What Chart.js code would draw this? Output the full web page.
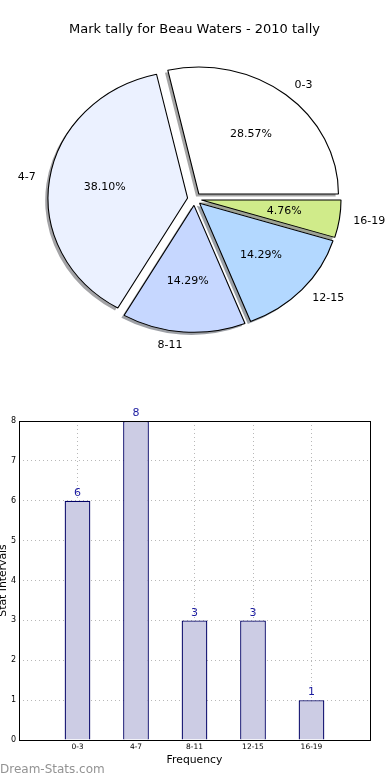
<!DOCTYPE html>
<html>
<head>
<meta charset="utf-8">
<script src="https://cdn.jsdelivr.net/npm/chart.js@4.4.1/dist/chart.umd.min.js"></script>
<style>
  body { margin: 0; background: #fff; width: 390px; height: 780px; position: relative; overflow: hidden; }
  #pieBox { position: absolute; left: 0; top: 0; width: 390px; height: 370px; }
  #barBox { position: absolute; left: 0; top: 370px; width: 390px; height: 410px; }
  #mark { position: absolute; left: 0; top: 762px; font: 12px 'DejaVu Sans'; color: #939393; }
</style>
</head>
<body>
<div id="pieBox"><canvas id="pieChart"></canvas></div>
<div id="barBox"><canvas id="barChart"></canvas></div>
<div id="mark">Dream-Stats.com</div>
<script>
var categories = ['0-3', '4-7', '8-11', '12-15', '16-19'];
var tally = [6, 8, 3, 3, 1];
var sliceColors = ['#ffffff', '#ebf1ff', '#c6d7ff', '#b3d8ff', '#d0eb8a'];
var yTicks = [0, 1, 2, 3, 4, 5, 6, 7, 8];

var FONT = 'DejaVu Sans';
var total = tally.reduce(function (a, b) { return a + b; }, 0);

// matplotlib draws counter-clockwise from 3 o'clock, chart.js clockwise -> reverse
var pieLabels = categories.slice().reverse();
var pieValues = tally.slice().reverse();
var pieColors = sliceColors.slice().reverse();

var RADIUS = 127;
var SX = 139.6 / 127; // the original axes were not square, so the pie is an ellipse
var EXPLODE = 0.05;

function shadowOf(hex) {
  var r = parseInt(hex.substr(1, 2), 16), g = parseInt(hex.substr(3, 2), 16), b = parseInt(hex.substr(5, 2), 16);
  return 'rgba(' + Math.round(r * .3) + ',' + Math.round(g * .3) + ',' + Math.round(b * .3) + ',0.5)';
}

var piePlugin = {
  id: 'piePlugin',
  afterUpdate: function (chart) {
    chart.getDatasetMeta(0).data.forEach(function (arc) {
      var mid = (arc.startAngle + arc.endAngle) / 2;
      arc.x += Math.cos(mid) * EXPLODE * arc.outerRadius;
      arc.y += Math.sin(mid) * EXPLODE * arc.outerRadius;
    });
  },
  beforeDatasetsDraw: function (chart) {
    var ctx = chart.ctx, a = chart.chartArea;
    var cx = (a.left + a.right) / 2, cy = (a.top + a.bottom) / 2;
    ctx.save();
    ctx.translate(cx, cy);
    ctx.scale(SX, 1);
    ctx.translate(-cx, -cy);
    // shadows under every wedge
    chart.getDatasetMeta(0).data.forEach(function (arc, i) {
      var r = arc.outerRadius;
      ctx.beginPath();
      ctx.moveTo(arc.x - 0.02 * r, arc.y + 0.02 * r);
      ctx.arc(arc.x - 0.02 * r, arc.y + 0.02 * r, r, arc.startAngle, arc.endAngle);
      ctx.closePath();
      ctx.fillStyle = shadowOf(pieColors[i]);
      ctx.fill();
    });
  },
  afterDatasetsDraw: function (chart) {
    var ctx = chart.ctx, a = chart.chartArea;
    ctx.restore();
    var cx = (a.left + a.right) / 2;
    ctx.save();
    ctx.font = '11px ' + FONT;
    ctx.fillStyle = '#000';
    ctx.textBaseline = 'middle';
    chart.getDatasetMeta(0).data.forEach(function (arc, i) {
      var r = arc.outerRadius;
      var mid = (arc.startAngle + arc.endAngle) / 2;
      var lx = arc.x + Math.cos(mid) * r * 1.1, ly = arc.y + Math.sin(mid) * r * 1.1;
      ctx.textAlign = Math.cos(mid) > 0 ? 'left' : 'right';
      ctx.fillText(pieLabels[i], cx + (lx - cx) * SX, ly);
      var px = arc.x + Math.cos(mid) * r * 0.6, py = arc.y + Math.sin(mid) * r * 0.6;
      ctx.textAlign = 'center';
      ctx.fillText((pieValues[i] / total * 100).toFixed(2) + '%', cx + (px - cx) * SX, py);
    });
    ctx.restore();
  }
};

new Chart(document.getElementById('pieChart'), {
  type: 'pie',
  data: {
    labels: pieLabels,
    datasets: [{
      data: pieValues,
      backgroundColor: pieColors,
      borderColor: '#000',
      borderWidth: 1
    }]
  },
  options: {
    responsive: true,
    maintainAspectRatio: false,
    animation: false,
    events: [],
    rotation: 90,
    radius: RADIUS,
    layout: { padding: { left: 0, right: 1, top: 0, bottom: 19.6 } },
    plugins: {
      legend: { display: false },
      tooltip: { enabled: false },
      title: {
        display: true,
        text: 'Mark tally for Beau Waters - 2010 tally',
        color: '#000',
        font: { family: FONT, size: 13, weight: 'normal', lineHeight: 1.2 },
        padding: { top: 22, bottom: 10 }
      }
    }
  },
  plugins: [piePlugin]
});

// bar chart: one empty slot each side, like the original x range
var barLabels = [''].concat(categories, ['']);
var barValues = [null].concat(tally, [null]);

var barPlugin = {
  id: 'barPlugin',
  afterDraw: function (chart) {
    var ctx = chart.ctx, a = chart.chartArea;
    ctx.save();
    ctx.strokeStyle = '#000';
    ctx.lineWidth = 1;
    ctx.strokeRect(Math.round(a.left) + 0.5, Math.round(a.top) + 0.5, Math.round(a.right - a.left), Math.round(a.bottom - a.top));
    ctx.font = '11px ' + FONT;
    ctx.fillStyle = '#1c1ca0';
    ctx.textAlign = 'center';
    ctx.textBaseline = 'bottom';
    chart.getDatasetMeta(0).data.forEach(function (bar, i) {
      if (barValues[i] == null) return;
      ctx.fillText(String(barValues[i]), bar.x, bar.y - 2);
    });
    ctx.restore();
  }
};

new Chart(document.getElementById('barChart'), {
  type: 'bar',
  data: {
    labels: barLabels,
    datasets: [{
      data: barValues,
      backgroundColor: '#cccce4',
      borderColor: '#000066',
      borderWidth: 1.3,
      barPercentage: 0.44,
      categoryPercentage: 1
    }]
  },
  options: {
    responsive: true,
    maintainAspectRatio: false,
    animation: false,
    events: [],
    layout: { padding: { left: 0, right: 20, top: 51, bottom: 0 } },
    plugins: { legend: { display: false }, tooltip: { enabled: false } },
    scales: {
      x: {
        offset: false,
        z: 1,
        grid: { color: '#b8b8b8', lineWidth: 1, drawTicks: false, offset: false },
        border: { display: false, dash: [1, 3] },
        ticks: { color: '#000', font: { family: FONT, size: 7.5 }, padding: 3, maxRotation: 0, autoSkip: false },
        title: {
          display: true, text: 'Frequency', color: '#000',
          font: { family: FONT, size: 10.8, lineHeight: 1.2 },
          padding: { top: 0, bottom: 13.5 }
        },
        afterFit: function (s) { s.height = 40; }
      },
      y: {
        min: 0,
        max: 8,
        z: 1,
        grid: { color: '#b8b8b8', lineWidth: 1, drawTicks: false },
        border: { display: false, dash: [1, 3] },
        ticks: {
          color: '#000', font: { family: FONT, size: 8 }, padding: 3, stepSize: 1,
          callback: function (v) { return yTicks.indexOf(v) >= 0 ? String(v) : ''; }
        },
        title: {
          display: true, text: 'Stat Intervals', color: '#000',
          font: { family: FONT, size: 10.8, lineHeight: 0.61 },
          padding: { top: 0, bottom: 0 }
        },
        afterFit: function (s) { s.width = 19; }
      }
    }
  },
  plugins: [barPlugin]
});
</script>
</body>
</html>
